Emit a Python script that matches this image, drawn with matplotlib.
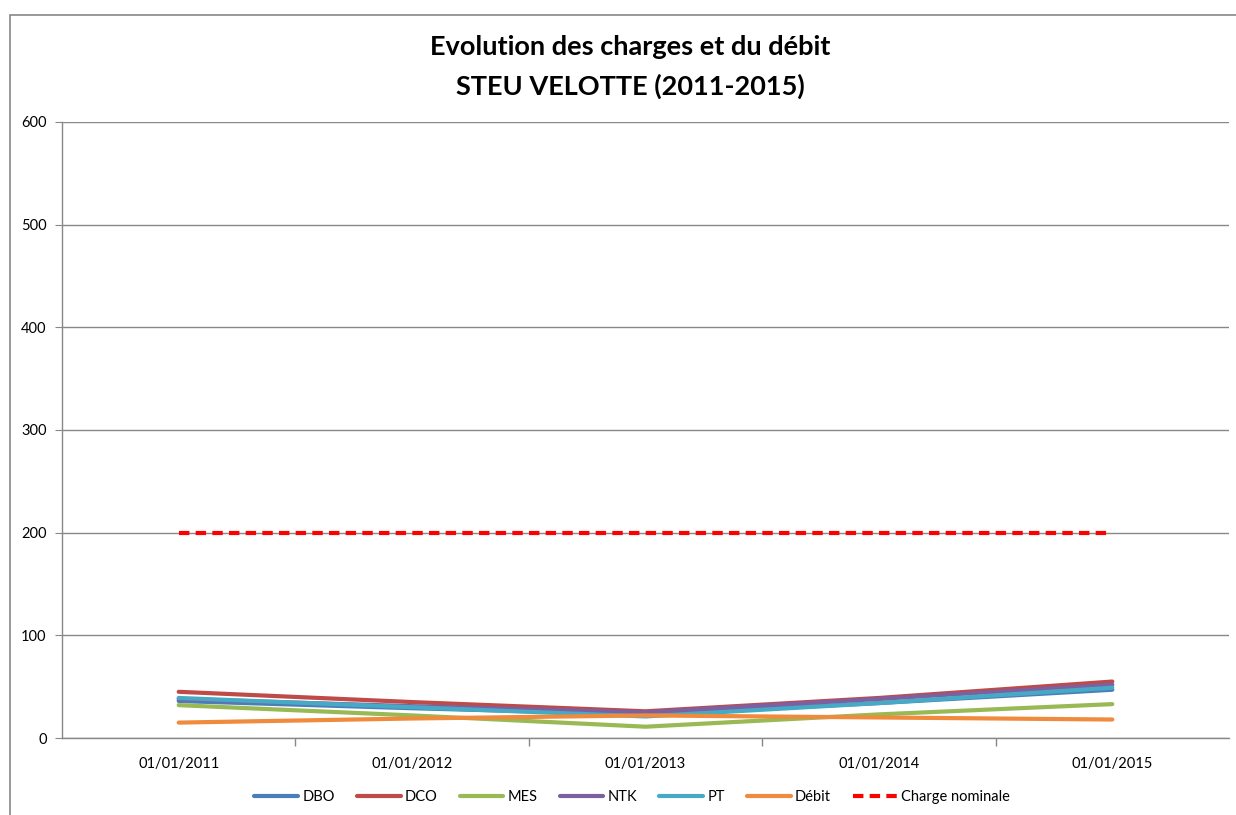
import matplotlib.pyplot as plt
from matplotlib.patches import Rectangle

# Annual loads, STEU Velotte
dates = ["01/01/2011", "01/01/2012", "01/01/2013", "01/01/2014", "01/01/2015"]
dbo = [36, 29, 23, 34, 47]
dco = [45, 35, 26, 39, 55]
mes = [32, 22, 11, 23, 33]
ntk = [38, 31, 25, 38, 52]
pt = [39, 30, 21, 34, 49]
debit = [15, 19, 22, 20, 18]
charge_nominale = [200, 200, 200, 200, 200]

series = [
    ("DBO", dbo, "#4A7EBB"),
    ("DCO", dco, "#BE4B48"),
    ("MES", mes, "#98B954"),
    ("NTK", ntk, "#7D60A0"),
    ("PT", pt, "#46AAC5"),
    ("Débit", debit, "#F08A3C"),
]

plt.rcParams['font.family'] = ['Lato', 'DejaVu Sans']

fig = plt.figure(figsize=(12.36, 8.15), dpi=100)
W, H = 1236, 815
ax = fig.add_axes([62 / W, 1 - 738 / H, (1229 - 62) / W, (738 - 122) / H])

# outer chart frame
fig.patches.append(Rectangle((10 / W, -0.01), 1.1, 1 - 15 / H + 0.01, transform=fig.transFigure,
                             fill=False, edgecolor="#888888", linewidth=1.2))

x = list(range(len(dates)))
for name, vals, col in series:
    ax.plot(x, vals, color=col, linewidth=3, label=name, solid_capstyle="round")
ax.plot(x, charge_nominale, color="#FF0000", linewidth=3, linestyle=(0, (2.5, 1.5)),
        label="Charge nominale")

ax.set_xlim(-0.5, len(dates) - 0.5)
ax.set_ylim(0, 600)
ax.set_yticks(range(0, 601, 100))
ax.set_xticks(x)
ax.set_xticklabels(dates)
ax.set_xticks([i + 0.5 for i in x[:-1]], minor=True)
ax.tick_params(axis="x", which="major", length=0, pad=14, labelsize=10.5)
ax.tick_params(axis="x", which="minor", length=6, color="#888888", width=1)
ax.tick_params(axis="y", length=5, color="#888888", labelsize=10.5, pad=6)
ax.grid(axis="y", color="#888888", linewidth=1)
ax.set_axisbelow(True)
for s in ["top", "right"]:
    ax.spines[s].set_visible(False)
for s in ["left", "bottom"]:
    ax.spines[s].set_color("#888888")
    ax.spines[s].set_linewidth(1)

fig.text(630 / W, 1 - 47 / H, "Evolution des charges et du débit", ha="center", va="center",
         fontsize=19.5, fontweight="bold")
fig.text(630 / W, 1 - 86 / H, "STEU VELOTTE (2011-2015)", ha="center", va="center",
         fontsize=19.5, fontweight="bold")

fig.legend(loc="center", bbox_to_anchor=(632 / W, 1 - 797 / H), ncol=7, frameon=False,
           fontsize=10.5, handlelength=3, columnspacing=1.5, handletextpad=0.3)

fig.savefig("out.png", dpi=100)
